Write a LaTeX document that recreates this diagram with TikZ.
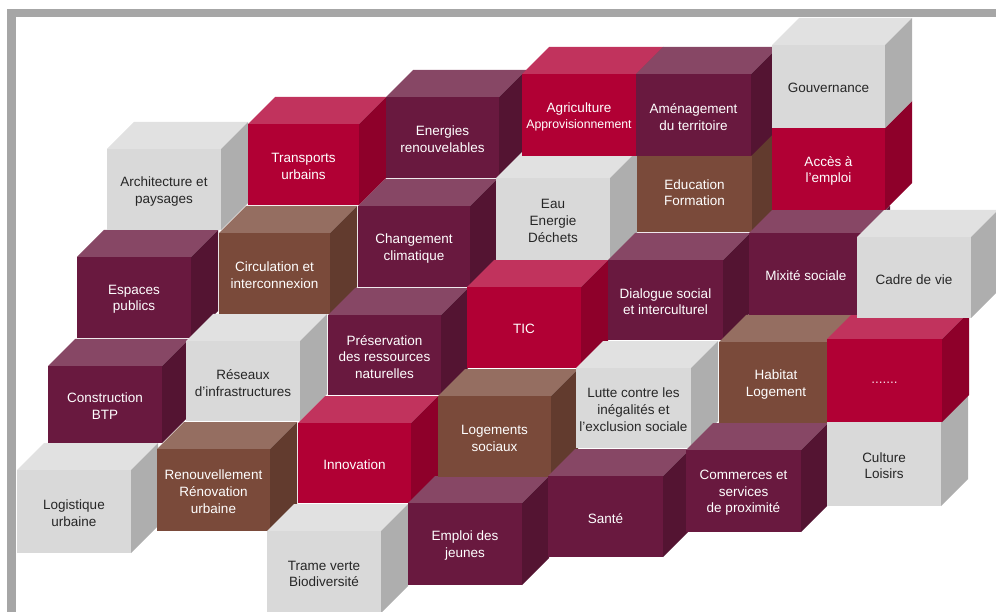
\documentclass[tikz,border=0pt]{standalone}
\usepackage{fontspec}
\setmainfont{Liberation Sans}
\usepackage{xcolor}
\usepackage{tikz}
\definecolor{cubered}{RGB}{177, 0, 52}
\definecolor{cubeplum}{RGB}{105, 25, 63}
\definecolor{cubebrown}{RGB}{122, 74, 58}
\definecolor{cubegrey}{RGB}{217, 217, 217}
\definecolor{framegrey}{RGB}{166, 166, 166}
\definecolor{ink}{RGB}{38, 38, 38}

\begin{document}
\begin{tikzpicture}[x=1pt, y=-1pt,
    lbl/.style={align=center, inner sep=0pt, yshift=-1.8pt, font=\fontsize{13.5}{16.7}\selectfont}]
  \useasboundingbox (0,0) rectangle (996,612);
  \draw[framegrey, line width=8.5pt] (11.6,612) -- (11.6,13.2) -- (996,13.2);
  % front corner x/y, width, height, colour, text colour, name, label (back rows last)
  \foreach \x/\y/\w/\h/\col/\tc/\nm/\lab in {
      17/470/114/83/cubegrey/ink/logistique/{Logistique\\urbaine},
      48/366/114/77/cubeplum/white/btp/{Construction\\BTP},
      157/449/113/82/cubebrown/white/renouvellement/{Renouvellement\\Rénovation\\urbaine},
      267/531/114/82/cubegrey/ink/trame/{Trame verte\\Biodiversité},
      77/257/114/81/cubeplum/white/espaces/{Espaces\\publics},
      186/341/114/80/cubegrey/ink/reseaux/{Réseaux\\d’infrastructures},
      298/423/113/80/cubered/white/innovation/{Innovation},
      408/503/114/82/cubeplum/white/emploi/{Emploi des\\jeunes},
      107/149/114/81/cubegrey/ink/architecture/{Architecture et\\paysages},
      219/233/111/81/cubebrown/white/circulation/{Circulation et\\interconnexion},
      328/315/113/80/cubeplum/white/preservation/{Préservation\\des ressources\\naturelles},
      438/396/113/81/cubebrown/white/logements/{Logements\\sociaux},
      548/476/115/81/cubeplum/white/sante/{Santé},
      248/124/111/81/cubered/white/transports/{Transports\\urbains},
      358/206/112/81/cubeplum/white/climat/{Changement\\climatique},
      467/287/114/81/cubered/white/tic/{TIC},
      576/368/115/80/cubegrey/ink/inegalites/{Lutte contre les\\inégalités et\\l’exclusion sociale},
      686/450/115/82/cubeplum/white/commerces/{Commerces et\\services\\de proximité},
      386/97/113/81/cubeplum/white/energies/{Energies\\renouvelables},
      496/178/114/82/cubegrey/ink/eau/{Eau\\Energie\\Déchets},
      608/260/115/80/cubeplum/white/dialogue/{Dialogue social\\et interculturel},
      719/342/114/81/cubebrown/white/habitat/{Habitat\\Logement},
      827/422/114/84/cubegrey/ink/culture/{Culture\\Loisirs},
      827/339/115/83/cubered/white!85!cubered/etc/{.{}.{}.{}.{}.{}.{}.},
      522/74/114/82/cubered/white/agriculture/{Agriculture\\{\fontsize{12.3}{15}\selectfont Approvisionnement}},
      637/150/115/82/cubebrown/white/education/{Education\\Formation},
      636/74/115/82/cubeplum/white/amenagement/{Aménagement\\du territoire},
      749/233/114/82/cubeplum/white/mixite/{Mixité sociale},
      857/237/114/81/cubegrey/ink/cadre/{Cadre de vie},
      772/128/113/82/cubered/white/acces/{Accès à\\l’emploi},
      772/45/113/83/cubegrey/ink/gouvernance/{Gouvernance}} {
    \fill[fill=\col!80!white] (\x,\y) -- ++(27,-27) -- ++(\w,0) -- ++(-27,27) -- cycle;
    \fill[fill=\col!80!black] (\x+\w,\y) -- ++(27,-27) -- ++(0,\h) -- ++(-27,27) -- cycle;
    \fill[fill=\col] (\x,\y) rectangle ++(\w,\h);
    \node[lbl, text=\tc] (\nm) at (\x+\w/2,\y+\h/2) {\lab};
  }
\end{tikzpicture}
\end{document}
